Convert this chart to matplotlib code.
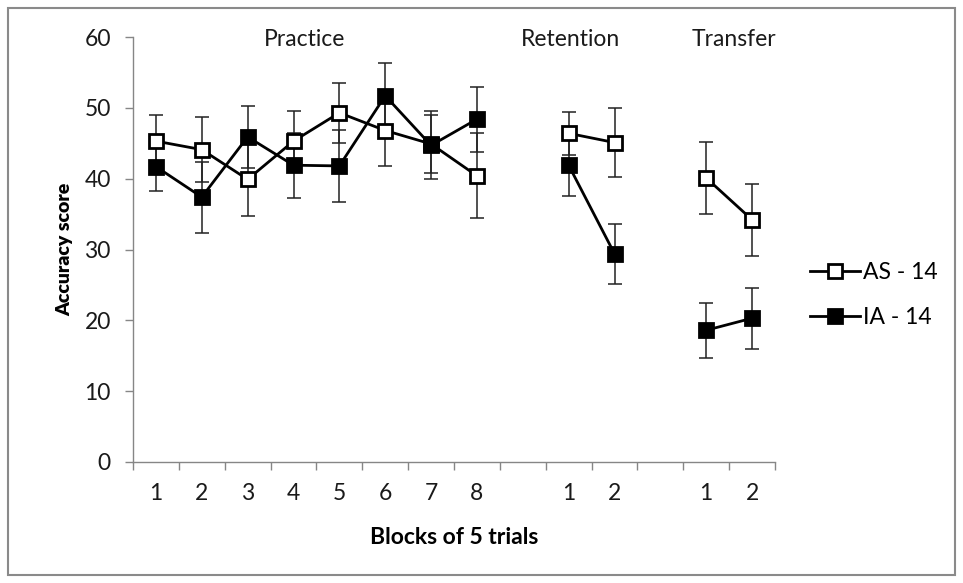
import numpy as np
import matplotlib
matplotlib.use("Agg")
import matplotlib.pyplot as plt
from matplotlib.patches import Rectangle

plt.rcParams['font.family'] = ['Lato', 'DejaVu Sans']

# Category labels along the x axis (blank slots separate the phases)
tick_labels = ["1", "2", "3", "4", "5", "6", "7", "8", "", "1", "2", "", "1", "2"]
phase_names = ["Practice", "Retention", "Transfer"]
phase_centers = [3.25, 9.05, 12.6]

# Group means and error-bar half widths per block (NaN = gap between phases)
as14_mean = [45.3, 44.1, 39.9, 45.3, 49.3, 46.8, 44.9, 40.4, np.nan, 46.4, 45.1, np.nan, 40.1, 34.2]
as14_err = [3.7, 4.6, 5.2, 4.3, 4.2, 5.0, 4.1, 6.0, np.nan, 3.0, 4.9, np.nan, 5.1, 5.1]
ia14_mean = [41.7, 37.4, 45.9, 41.9, 41.8, 51.7, 44.7, 48.4, np.nan, 41.9, 29.4, np.nan, 18.6, 20.3]
ia14_err = [3.4, 5.0, 4.4, 4.6, 5.1, 4.6, 4.8, 4.6, np.nan, 4.3, 4.2, np.nan, 3.9, 4.3]

W, H = 963, 583
fig = plt.figure(figsize=(W / 100, H / 100), dpi=100)
ax = fig.add_axes([133 / W, 1 - 462 / H, (775 - 133) / W, (462 - 37) / H])

x = np.arange(len(tick_labels))
axis_gray = "#868686"
text_col = "#1a1a1a"

for mean, err, face, label in [(as14_mean, as14_err, "white", "AS - 14"),
                               (ia14_mean, ia14_err, "black", "IA - 14")]:
    ax.errorbar(x, mean, yerr=err, fmt="none", ecolor="#222222",
                elinewidth=1.1, capsize=5, capthick=1.1, zorder=2)
    ax.plot(x, mean, color="black", lw=2, marker="s", markersize=10,
            markerfacecolor=face, markeredgecolor="black", markeredgewidth=2,
            label=label, zorder=3)

ax.set_xlim(-0.5, len(tick_labels) - 0.5)
ax.set_ylim(0, 60)
ax.set_yticks(np.arange(0, 61, 10))
ax.set_xticks(x)
ax.set_xticklabels(tick_labels)
ax.set_xticks(np.arange(-0.5, len(tick_labels), 1), minor=True)
ax.tick_params(axis="x", which="major", length=0, pad=15, labelsize=16.5, labelcolor=text_col)
ax.tick_params(axis="x", which="minor", length=6, color=axis_gray, width=1)
ax.tick_params(axis="y", which="major", length=6, color=axis_gray, width=1,
               labelsize=16.5, labelcolor=text_col, pad=10)

for side in ["top", "right"]:
    ax.spines[side].set_visible(False)
for side in ["left", "bottom"]:
    ax.spines[side].set_color(axis_gray)
    ax.spines[side].set_linewidth(1)

for name, cx in zip(phase_names, phase_centers):
    ax.text(cx, 59.6, name, ha="center", va="center", fontsize=16.5, color=text_col)

ax.set_ylabel("Accuracy score", fontsize=14, fontweight="heavy", labelpad=8)
ax.set_xlabel("Blocks of 5 trials", fontsize=16.5, fontweight="bold", labelpad=17)

leg = fig.legend(loc="center left", bbox_to_anchor=(810 / W, 1 - 295 / H),
                 frameon=False, fontsize=16.5, handlelength=2.2, handletextpad=0.1,
                 labelspacing=1.05, borderpad=0, borderaxespad=0)

fig.patches.append(Rectangle((8 / W, 8 / H), (955 - 8) / W, (575 - 8) / H,
                             transform=fig.transFigure, fill=False,
                             edgecolor="#8a8a8a", linewidth=1.5))

fig.savefig("out.png", dpi=100)
